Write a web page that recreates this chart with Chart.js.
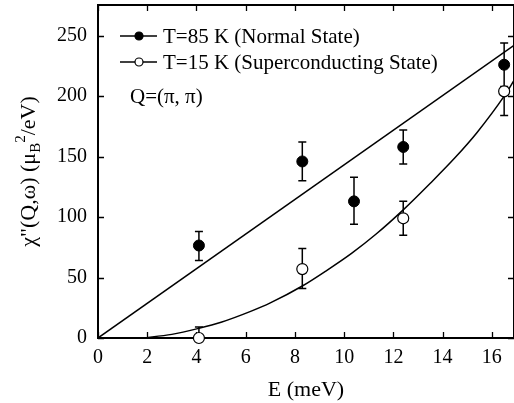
<!DOCTYPE html>
<html>
<head>
<meta charset="utf-8">
<script src="https://cdn.jsdelivr.net/npm/chart.js@4.4.1/dist/chart.umd.min.js"></script>
<style>
  html, body { margin: 0; padding: 0; background: #fff; }
</style>
</head>
<body>
<canvas id="chart" width="514" height="403"></canvas>
<script>
// T=85 K (normal state) points with error bars
const energyNormal = [4.1, 8.3, 10.4, 12.4, 16.5];
const chiNormal = [76.5, 146, 113, 158, 226];
const errLowNormal = [64, 130, 94, 144, 208];
const errHighNormal = [88, 162, 133, 172, 244];

// T=15 K (superconducting state) points with error bars
const energySuper = [4.1, 8.3, 12.4, 16.5];
const chiSuper = [0, 57, 99, 204];
const errLowSuper = [0, 41, 85, 184];
const errHighSuper = [9, 74, 113, 224];

// fitted curves
const fitNormalE = [0, 16.9];
const fitNormalChi = [0, 242];
const fitSuperE = [1.8, 3, 4.1, 5, 6.2, 7, 8.3, 9.3, 10.3, 11.3, 12.4, 13.5, 14.5, 15.4, 16.5, 16.9];
const fitSuperChi = [0, 3, 8, 13, 22, 29, 43, 56, 70, 86, 106, 128, 149, 170, 200, 213];

const xTicks = [0, 2, 4, 6, 8, 10, 12, 14, 16];
const yTicks = [0, 50, 100, 150, 200, 250];

const legendLabels = ['T=85 K (Normal State)', 'T=15 K (Superconducting State)'];
const noteLabel = 'Q=(\u03c0, \u03c0)';

const FONT = "'Liberation Serif', 'Times New Roman', serif";
Chart.defaults.font.family = FONT;
Chart.defaults.color = '#000';

const toPoints = (xs, ys) => xs.map((x, i) => ({ x, y: ys[i] }));

// no extra room for half tick labels, the frame goes to the canvas edge
const noPadding = (scale) => {
  scale.paddingTop = 0;
  scale.paddingBottom = 0;
  scale.paddingLeft = 0;
  scale.paddingRight = 0;
};

// frame with inward ticks on all four sides, plus error bars
const framePlugin = {
  id: 'frame',
  beforeDatasetsDraw: (chart) => {
    const { ctx, chartArea: a, scales: { x, y } } = chart;
    ctx.save();
    ctx.strokeStyle = '#000';
    ctx.lineWidth = 2;
    ctx.strokeRect(a.left, a.top, a.right - a.left, a.bottom - a.top);
    ctx.lineWidth = 1.3;
    ctx.beginPath();
    xTicks.forEach((v) => {
      const px = Math.round(x.getPixelForValue(v)) + 0.5;
      ctx.moveTo(px, a.bottom); ctx.lineTo(px, a.bottom - 6);
      ctx.moveTo(px, a.top); ctx.lineTo(px, a.top + 6);
    });
    yTicks.forEach((v) => {
      const py = Math.round(y.getPixelForValue(v)) + 0.5;
      ctx.moveTo(a.left, py); ctx.lineTo(a.left + 6, py);
      ctx.moveTo(a.right, py); ctx.lineTo(a.right - 6, py);
    });
    ctx.stroke();

    // error bars
    const bars = (es, lo, hi) => {
      es.forEach((e, i) => {
        const px = x.getPixelForValue(e);
        const top = y.getPixelForValue(hi[i]);
        const bot = y.getPixelForValue(lo[i]);
        ctx.moveTo(px, top); ctx.lineTo(px, bot);
        ctx.moveTo(px - 4, top); ctx.lineTo(px + 4, top);
        ctx.moveTo(px - 4, bot); ctx.lineTo(px + 4, bot);
      });
    };
    ctx.lineWidth = 1.5;
    ctx.beginPath();
    bars(energyNormal, errLowNormal, errHighNormal);
    bars(energySuper, errLowSuper, errHighSuper);
    ctx.stroke();
    ctx.restore();
  },
};

// y axis title with subscript / superscript, legend and note
const labelsPlugin = {
  id: 'labels',
  afterDraw: (chart) => {
    const { ctx, chartArea: a } = chart;
    ctx.save();
    ctx.fillStyle = '#000';
    ctx.strokeStyle = '#000';

    // y title
    const big = `22px ${FONT}`;
    const small = `15px ${FONT}`;
    const parts = [
      { t: 'χ"(Q,ω) (μ', f: big, dy: 0 },
      { t: 'B', f: small, dy: 5 },
      { t: '2', f: small, dy: -10 },
      { t: '/eV)', f: big, dy: 0 },
    ];
    let total = 0;
    parts.forEach((p) => { ctx.font = p.f; total += ctx.measureText(p.t).width; });
    ctx.translate(28, (a.top + a.bottom) / 2);
    ctx.rotate(-Math.PI / 2);
    ctx.textBaseline = 'alphabetic';
    let cx = -total / 2;
    parts.forEach((p) => {
      ctx.font = p.f;
      ctx.fillText(p.t, cx, 7 + p.dy);
      cx += ctx.measureText(p.t).width;
    });
    ctx.setTransform(1, 0, 0, 1, 0, 0);

    // legend
    ctx.font = `21px ${FONT}`;
    ctx.textBaseline = 'middle';
    const rows = [36, 62];
    rows.forEach((ry, i) => {
      ctx.lineWidth = 1.5;
      ctx.beginPath();
      ctx.moveTo(120, ry); ctx.lineTo(157, ry);
      ctx.stroke();
      ctx.beginPath();
      ctx.arc(139, ry, 4, 0, Math.PI * 2);
      ctx.fillStyle = i === 0 ? '#000' : '#fff';
      ctx.fill();
      ctx.lineWidth = 1.2;
      ctx.stroke();
      ctx.fillStyle = '#000';
      ctx.fillText(legendLabels[i], 163, ry + 1);
    });
    ctx.fillText(noteLabel, 130, 97);
    ctx.restore();
  },
};

new Chart(document.getElementById('chart').getContext('2d'), {
  data: {
    datasets: [
      {
        type: 'line',
        data: toPoints(fitNormalE, fitNormalChi),
        borderColor: '#000',
        borderWidth: 1.5,
        pointRadius: 0,
        order: 2,
      },
      {
        type: 'line',
        data: toPoints(fitSuperE, fitSuperChi),
        borderColor: '#000',
        borderWidth: 1.5,
        pointRadius: 0,
        cubicInterpolationMode: 'monotone',
        order: 2,
      },
      {
        type: 'scatter',
        data: toPoints(energyNormal, chiNormal),
        backgroundColor: '#000',
        borderColor: '#000',
        pointRadius: 5.5,
        borderWidth: 1,
        clip: false,
        order: 1,
      },
      {
        type: 'scatter',
        data: toPoints(energySuper, chiSuper),
        backgroundColor: '#fff',
        borderColor: '#000',
        pointRadius: 5.5,
        borderWidth: 1.2,
        clip: false,
        order: 1,
      },
    ],
  },
  options: {
    responsive: false,
    animation: false,
    layout: { autoPadding: false, padding: { top: 5, right: 0, left: 0, bottom: 0 } },
    plugins: {
      legend: { display: false },
      tooltip: { enabled: false },
    },
    scales: {
      x: {
        type: 'linear',
        min: 0,
        max: 16.9,
        grid: { display: false, drawTicks: false },
        border: { display: false },
        ticks: {
          stepSize: 2,
          includeBounds: false,
          padding: 8,
          font: { size: 20 },
          color: '#000',
        },
        title: {
          display: true,
          text: 'E (meV)',
          font: { size: 22 },
          color: '#000',
          padding: { top: 2, bottom: 0 },
        },
        afterFit: (scale) => { scale.height = 65; noPadding(scale); },
      },
      y: {
        type: 'linear',
        min: 0,
        max: 275.4,
        grid: { display: false, drawTicks: false },
        border: { display: false },
        ticks: {
          stepSize: 50,
          includeBounds: false,
          padding: 11,
          font: { size: 20 },
          color: '#000',
        },
        afterFit: (scale) => { scale.width = 98; noPadding(scale); },
      },
    },
  },
  plugins: [framePlugin, labelsPlugin],
});
</script>
</body>
</html>
